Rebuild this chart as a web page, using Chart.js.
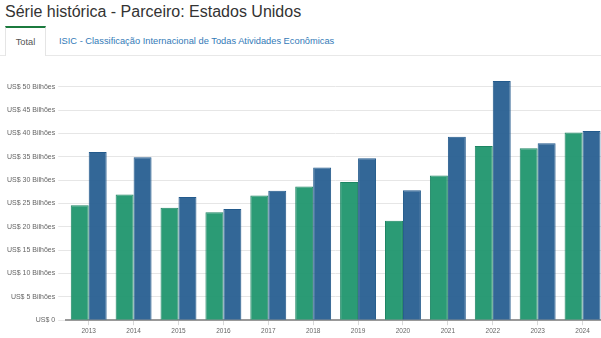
<!DOCTYPE html>
<html>
<head>
<meta charset="utf-8">
<script src="https://cdn.jsdelivr.net/npm/chart.js@4/dist/chart.umd.min.js"></script>
<style>
  html, body { margin: 0; padding: 0; background: #fff; overflow: hidden; width: 601px; height: 338px; }
  body { font-family: "Liberation Sans", Arial, sans-serif; position: relative; }
  #title { position: absolute; left: 5px; top: 3px; font-size: 16px; color: #333; white-space: nowrap; }
  #tabline { position: absolute; left: 0; top: 55px; width: 601px; border-top: 1px solid #e8e8e8; }
  #tab1 { position: absolute; left: 5px; top: 26px; width: 41px; height: 30px; border-top: 2px solid #1b7a3e;
          border-left: 1px solid #e5e5e5; border-right: 1px solid #e5e5e5; background: #fff; box-sizing: border-box;
          font-size: 9.3px; color: #555; text-align: center; line-height: 29px; z-index: 2; }
  #tab2 { position: absolute; left: 59px; top: 36px; font-size: 9.3px; color: #337ab7; white-space: nowrap; }
  #wrap { position: absolute; left: 0; top: 62px; width: 612px; height: 276px; }
</style>
</head>
<body>
<div id="title">Série histórica - Parceiro: Estados Unidos</div>
<div id="tabline"></div>
<div id="tab1">Total</div>
<div id="tab2">ISIC - Classificação Internacional de Todas Atividades Econômicas</div>
<div id="wrap"><canvas id="c"></canvas></div>
<script>
const categories = ["2013","2014","2015","2016","2017","2018","2019","2020","2021","2022","2023","2024"];
const seriesGreen = [24.6, 26.9, 24.1, 23.1, 26.7, 28.6, 29.6, 21.3, 31.0, 37.3, 36.8, 40.2];
const seriesBlue  = [36.0, 34.9, 26.4, 23.8, 27.7, 32.7, 34.7, 27.8, 39.3, 51.2, 37.9, 40.5];
const yTickValues = [0, 5, 10, 15, 20, 25, 30, 35, 40, 45, 50];

new Chart(document.getElementById('c'), {
  type: 'bar',
  data: {
    labels: categories,
    datasets: [
      { data: seriesGreen, backgroundColor: 'rgba(32,150,110,0.95)', borderColor: '#1d8563', borderWidth: 1,
        categoryPercentage: 0.8, barPercentage: 1.0 },
      { data: seriesBlue, backgroundColor: 'rgba(40,95,145,0.95)', borderColor: '#235a8c', borderWidth: 1,
        categoryPercentage: 0.8, barPercentage: 1.0 }
    ]
  },
  options: {
    responsive: true,
    maintainAspectRatio: false,
    animation: false,
    layout: { padding: { left: 4, right: 7, top: 13, bottom: 0 } },
    plugins: { legend: { display: false }, tooltip: { enabled: false } },
    scales: {
      x: {
        grid: { offset: false, drawOnChartArea: false, tickLength: 5, color: '#d8d8d8' },
        border: { color: '#999', width: 2 },
        ticks: { color: '#666', font: { family: 'Liberation Sans', size: 6.5 }, padding: 2.5 }
      },
      y: {
        min: 0, max: 52.5,
        afterBuildTicks: (axis) => { axis.ticks = yTickValues.map(v => ({ value: v })); },
        grid: { color: '#e6e6e6', tickLength: 8 },
        border: { display: false },
        ticks: {
          color: '#666', font: { family: 'Liberation Sans', size: 7 }, padding: 3,
          callback: (v) => v === 0 ? 'US$ 0' : 'US$ ' + v + ' Bilhões'
        }
      }
    }
  }
});
</script>
</body>
</html>
